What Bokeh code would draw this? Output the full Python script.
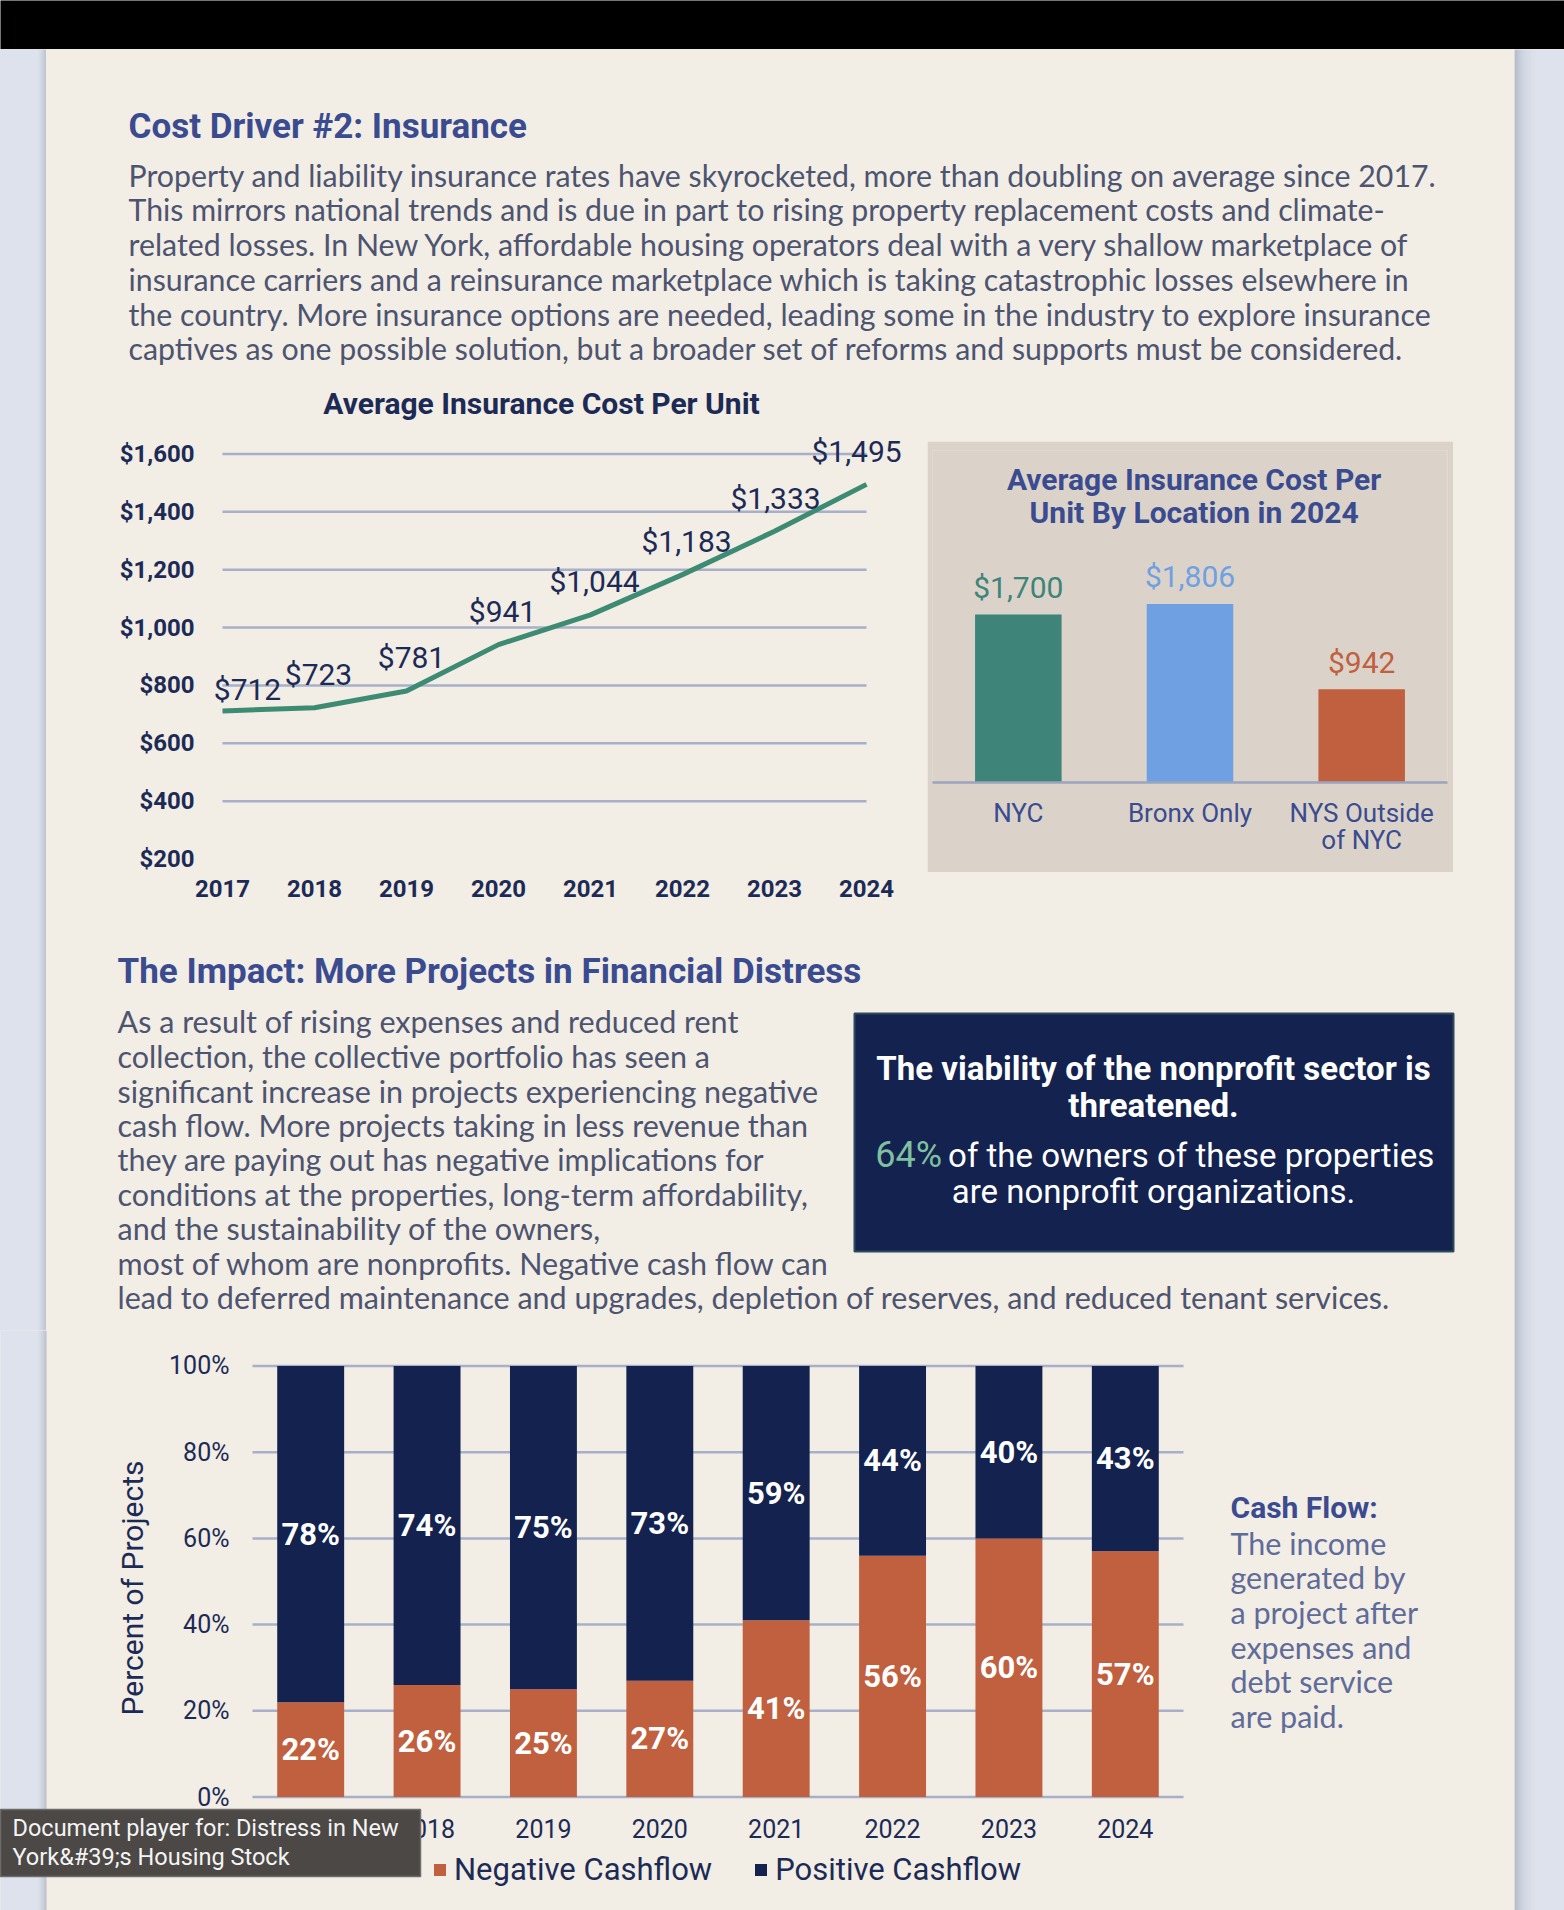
from bokeh.plotting import figure
from bokeh.models import (Range1d, ColumnDataSource, LabelSet,
                          FixedTicker, NumeralTickFormatter, PrintfTickFormatter, Legend, LegendItem)
from bokeh.layouts import column, row
from bokeh.embed import file_html
from bokeh.resources import INLINE
from bokeh.core.properties import value, field

# ---------------- data ----------------
years = [2017, 2018, 2019, 2020, 2021, 2022, 2023, 2024]
avg_cost = [712, 723, 781, 941, 1044, 1183, 1333, 1495]
cost_ticks = [200, 400, 600, 800, 1000, 1200, 1400, 1600]

locations = ["NYC", "Bronx Only", "NYS Outside\nof NYC"]
loc_cost = [1700, 1806, 942]

negative_cf = [22, 26, 25, 27, 41, 56, 60, 57]
positive_cf = [78, 74, 75, 73, 59, 44, 40, 43]
pct_ticks = [0, 20, 40, 60, 80, 100]

# ---------------- texts ----------------
title1 = "Cost Driver #2: Insurance"
para1 = [
    "Property and liability insurance rates have skyrocketed, more than doubling on average since 2017.",
    "This mirrors national trends and is due in part to rising property replacement costs and climate-",
    "related losses. In New York, affordable housing operators deal with a very shallow marketplace of",
    "insurance carriers and a reinsurance marketplace which is taking catastrophic losses elsewhere in",
    "the country. More insurance options are needed, leading some in the industry to explore insurance",
    "captives as one possible solution, but a broader set of reforms and supports must be considered.",
]
line_title = "Average Insurance Cost Per Unit"
loc_title = ["Average Insurance Cost Per", "Unit By Location in 2024"]
title2 = "The Impact: More Projects in Financial Distress"
para2 = [
    "As a result of rising expenses and reduced rent",
    "collection, the collective portfolio has seen a",
    "significant increase in projects experiencing negative",
    "cash flow. More projects taking in less revenue than",
    "they are paying out has negative implications for",
    "conditions at the properties, long-term affordability,",
    "and the sustainability of the owners,",
    "most of whom are nonprofits. Negative cash flow can",
    "lead to deferred maintenance and upgrades, depletion of reserves, and reduced tenant services.",
]
box_head = ["The viability of the nonprofit sector is", "threatened."]
box_pct = "64%"
box_rest = ["of the owners of these properties", "are nonprofit organizations."]
note_head = "Cash Flow:"
note_lines = ["The income", "generated by", "a project after", "expenses and", "debt service", "are paid."]
legend_labels = ["Negative Cashflow", "Positive Cashflow"]
tooltip_lines = ["Document player for: Distress in New", "York&#39;s Housing Stock"]

# ---------------- styles ----------------
BLACK = "#000000"
STRIP = "#dde2ec"
SHADOW = "#6b7388"
CREAM = "#f2ede5"
TAN = "#dbd3c9"
BLUE = "#3a4b8f"
BODY = "#4d5470"
NAVY_T = "#1c2b55"
NAVY = "#13224f"
ORANGE = "#c0603f"
GREEN = "#3e8b74"
TEAL = "#3e8479"
LBLUE = "#6fa0e1"
GRID = "#a8b0c9"
NOTE = "#5f6b99"
MINT = "#7fc0a0"
TIP = "#4b4846"
SANS = "Roboto"
BODYF = "Lato"
loc_colors = [TEAL, LBLUE, ORANGE]
label_dx = [25, 4, 5, 4, 4, 4, 1, -10]     # label offsets (pixels) for the line chart
label_dy = [21, 33, 33, 33, 33, 33, 33, 33]
left_shadow = [0.03, 0.05, 0.08, 0.11, 0.15, 0.2, 0.25, 0.3]
right_shadow = [0.38, 0.33, 0.29, 0.25, 0.22, 0.19, 0.16, 0.14, 0.12, 0.1, 0.085, 0.07,
                0.06, 0.05, 0.04, 0.032, 0.025, 0.02, 0.015, 0.01, 0.006, 0.003]


def canvas(w, h, bg=CREAM):
    return figure(width=w, height=h, x_range=Range1d(0, w), y_range=Range1d(h, 0),
                  x_axis_type=None, y_axis_type=None, toolbar_location=None,
                  output_backend="svg", min_border=0, outline_line_color=None,
                  background_fill_color=bg, border_fill_color=bg)


def put_text(f, xs, ys, texts, size, color, font, style="normal", align="left",
             baseline="middle", **kw):
    f.text(x=xs, y=ys, text=texts, text_font=value(font), text_font_size=value(f"{size}px"),
           text_color=color, text_font_style=style, text_align=align, text_baseline=baseline, **kw)


def style_axis(ax, size, color, bold=False, standoff=10):
    ax.axis_line_color = None
    ax.major_tick_line_color = None
    ax.minor_tick_line_color = None
    ax.major_tick_out = 0
    ax.major_tick_in = 0
    ax.minor_tick_out = 0
    ax.major_label_text_font = SANS
    ax.major_label_text_font_size = f"{size}px"
    ax.major_label_text_color = color
    ax.major_label_text_font_style = "bold" if bold else "normal"
    ax.major_label_standoff = standoff


def shadow(f, x0, alphas, step, **kw):
    for i, a in enumerate(alphas):
        f.quad(left=x0 + i * step, right=x0 + (i + 1) * step, top=0, bottom=f.height,
               fill_color=SHADOW, fill_alpha=a, line_color=None, **kw)


# ---------------- page frame ----------------
band = canvas(1564, 49, BLACK)

stripL_top = canvas(46, 1281, STRIP)
shadow(stripL_top, 38, left_shadow, 1)

stripR = canvas(50, 1861, STRIP)
shadow(stripR, 0, right_shadow, 1)

# ---------------- top text ----------------
top = canvas(1468, 381)
put_text(top, [82], [76.5], [title1], 35, BLUE, SANS, "bold")
put_text(top, [82] * len(para1), [125.2, 159.9, 194.6, 229.3, 264.0, 298.7], para1, 30.3, BODY, BODYF)
put_text(top, [495], [354], [line_title], 30, NAVY_T, SANS, "bold", align="center")

# ---------------- line chart ----------------
lf = figure(width=881, height=510, x_range=Range1d(2016.761, 2024.478), y_range=Range1d(184.5, 1663.9),
            toolbar_location=None, output_backend="svg", outline_line_color=None,
            background_fill_color=CREAM, border_fill_color=CREAM,
            min_border_left=154, min_border_right=17, min_border_top=5, min_border_bottom=77)
lf.xaxis.ticker = FixedTicker(ticks=years)
lf.yaxis.ticker = FixedTicker(ticks=cost_ticks)
lf.yaxis.formatter = NumeralTickFormatter(format="$0,0")
style_axis(lf.xaxis[0], 24, NAVY_T, bold=True, standoff=16)
style_axis(lf.yaxis[0], 24, NAVY_T, bold=True, standoff=6)
lf.grid.visible = False
gl = cost_ticks[1:]
lf.segment(x0=[years[0]] * len(gl), x1=[years[-1]] * len(gl), y0=gl, y1=gl,
           line_color=GRID, line_width=2.5)
lsrc = ColumnDataSource(dict(year=years, cost=avg_cost,
                             label=[f"${v:,}" for v in avg_cost], dx=label_dx, dy=label_dy))
lf.line("year", "cost", source=lsrc, line_color=GREEN, line_width=5)
lf.add_layout(LabelSet(x="year", y="cost", text="label", source=lsrc, x_offset="dx", y_offset="dy",
                       text_align="center", text_baseline="middle", text_font=value(SANS),
                       text_font_size="30px", text_color=NAVY_T))

# ---------------- location bar chart ----------------
LOC_PX = 0.09888   # pixels per dollar
loc_x = list(range(len(locations)))
bf = figure(width=526, height=431, x_range=Range1d(-0.5, len(locations) - 0.5),
            y_range=Range1d(0, 332 / LOC_PX),
            toolbar_location=None, output_backend="svg", outline_line_color=None,
            background_fill_color=TAN, border_fill_color=TAN,
            min_border_left=5, min_border_right=6, min_border_top=9, min_border_bottom=90)
bf.extra_x_ranges = {"px": Range1d(5, 520)}
bf.extra_y_ranges = {"px": Range1d(341, 9)}
bsrc = ColumnDataSource(dict(x=loc_x, cost=loc_cost, color=loc_colors,
                             label=[f"${v:,}" for v in loc_cost]))
bf.vbar(x="x", top="cost", width=0.504, source=bsrc, fill_color="color", line_color=None)
bf.add_layout(LabelSet(x="x", y="cost", text="label", source=bsrc, y_offset=27,
                       text_align="center", text_baseline="middle", text_font=value(SANS),
                       text_font_size="30px", text_color=field("color")))
bf.yaxis.visible = False
bf.grid.visible = False
bf.xaxis.ticker = FixedTicker(ticks=loc_x)
bf.xaxis.major_label_overrides = {i: name for i, name in zip(loc_x, locations)}
style_axis(bf.xaxis[0], 26, BLUE, standoff=15)
bf.xaxis.major_label_text_line_height = 0.92
bf.xaxis.axis_line_color = "#9ba3bf"
bf.xaxis.axis_line_width = 2.5
put_text(bf, [266.6, 266.6], [37.7, 70.6], loc_title, 30, BLUE, SANS, "bold", align="center",
         x_range_name="px", y_range_name="px")

loc_col = column(canvas(526, 11), bf, canvas(526, 68), spacing=0)
mid_row = row(lf, loc_col, canvas(61, 510), spacing=0)

# ---------------- section 2 text ----------------
mid = canvas(1468, 390)
put_text(mid, [71], [31], [title2], 35, BLUE, SANS, "bold")
put_text(mid, [71] * len(para2),
         [80.7, 115.4, 150.1, 184.3, 218.9, 253.6, 287.7, 322.4, 356.5], para2, 30.5, BODY, BODYF)
mid.quad(left=808, right=1407, top=73, bottom=311, fill_color=NAVY, line_color="#2c4a5c", line_width=2)
put_text(mid, [1107, 1107], [128, 164.7], box_head, 33, "#ffffff", SANS, "bold", align="center")
put_text(mid, [895.5], [214.7], [box_pct], 36, MINT, SANS, align="right")
put_text(mid, [901.6], [214.7], [box_rest[0]], 33, "#ffffff", SANS)
put_text(mid, [1107], [251.2], [box_rest[1]], 33, "#ffffff", SANS, align="center")

# ---------------- cash flow chart ----------------
CF_W, CF_H = 1200, 580
PXX, PXY = 116.375, 4.312          # pixels per year slot, per percent
BAND_LEFT, ZERO_Y = 252, 466.6      # frame position of first slot edge and of 0%
x_start = (years[0] - 0.5) - BAND_LEFT / PXX
y_end = ZERO_Y / PXY
cf = figure(width=CF_W, height=CF_H,
            x_range=Range1d(x_start, x_start + CF_W / PXX),
            y_range=Range1d(y_end - CF_H / PXY, y_end),
            toolbar_location=None, output_backend="svg", outline_line_color=None,
            background_fill_color=CREAM, border_fill_color=CREAM, min_border=0)
cf.extra_x_ranges = {"px": Range1d(0, CF_W)}
cf.extra_y_ranges = {"px": Range1d(CF_H, 0)}
cf.grid.visible = False

# left page strip (continues the one above)
cf.quad(left=0, right=46, top=0, bottom=CF_H, fill_color=STRIP, line_color=None,
        x_range_name="px", y_range_name="px")
shadow(cf, 38, left_shadow, 1, x_range_name="px", y_range_name="px")

cf.segment(x0=[years[0] - 0.5] * len(pct_ticks), x1=[years[-1] + 0.5] * len(pct_ticks),
           y0=pct_ticks, y1=pct_ticks, line_color=GRID, line_width=2.5)
csrc = ColumnDataSource(dict(year=years, neg=negative_cf, pos=positive_cf))
rs = cf.vbar_stack(["neg", "pos"], x="year", width=0.575, source=csrc,
                   fill_color=[ORANGE, NAVY], line_color=None)

cf.yaxis.fixed_location = years[0] - 0.5
cf.yaxis.bounds = (-3, 100)
cf.yaxis.ticker = FixedTicker(ticks=pct_ticks)
cf.yaxis.formatter = PrintfTickFormatter(format="%d%%")
style_axis(cf.yaxis[0], 25, NAVY_T, standoff=23)
cf.yaxis.axis_label = "Percent of Projects"
cf.yaxis.axis_label_text_font = SANS
cf.yaxis.axis_label_text_font_size = "30px"
cf.yaxis.axis_label_text_font_style = "normal"
cf.yaxis.axis_label_text_color = NAVY_T
cf.yaxis.axis_label_standoff = 16

cf.xaxis.fixed_location = 0
cf.xaxis.bounds = (years[0] - 0.5, years[-1] + 0.5)
cf.xaxis.ticker = FixedTicker(ticks=years)
style_axis(cf.xaxis[0], 25, NAVY_T, standoff=22)

seg = ColumnDataSource(dict(
    year=years + years,
    ymid=[n / 2 for n in negative_cf] + [n + p / 2 for n, p in zip(negative_cf, positive_cf)],
    label=[f"{v}%" for v in negative_cf] + [f"{v}%" for v in positive_cf]))
cf.add_layout(LabelSet(x="year", y="ymid", text="label", source=seg, text_align="center",
                       text_baseline="middle", text_font=value(SANS), text_font_size="31px",
                       text_font_style="bold", text_color="#ffffff"))

legend = Legend(items=[LegendItem(label=legend_labels[0], renderers=[rs[0]]),
                       LegendItem(label=legend_labels[1], renderers=[rs[1]])],
                orientation="horizontal", location=(432, 22), label_text_font=SANS,
                label_text_font_size="31px", label_text_color=NAVY_T, glyph_width=15,
                glyph_height=15, label_standoff=7, spacing=41, padding=0, margin=0,
                border_line_color=None, background_fill_alpha=0)
cf.add_layout(legend)

# browser tooltip overlay seen in the screenshot
cf.quad(left=0, right=420, top=479, bottom=546, fill_color=TIP, line_color="#6e6c6a",
        line_width=1.5, x_range_name="px", y_range_name="px", level="overlay")
put_text(cf, [12, 12], [497, 526], tooltip_lines, 23.5, "#f4f4f4", SANS,
         x_range_name="px", y_range_name="px", level="overlay")

note = canvas(314, 580)
put_text(note, [30], [176.7], [note_head], 30, BLUE, SANS, "bold")
put_text(note, [30] * len(note_lines), [212, 246.8, 281.4, 316.1, 350.8, 385], note_lines, 30.5, NOTE, BODYF)

left_top = row(stripL_top, column(top, mid_row, mid, spacing=0), spacing=0)
bottom_row = row(cf, note, spacing=0)
left_col = column(left_top, bottom_row, spacing=0,
                  styles={"background": f"linear-gradient(to right, {STRIP} 0px, {STRIP} 46px, {CREAM} 46px)"})
page = column(band, row(left_col, stripR, spacing=0), spacing=0,
              styles={"background-color": CREAM})

open("out.html", "w").write(file_html(page, INLINE, title="Distress in New York's Housing Stock"))
